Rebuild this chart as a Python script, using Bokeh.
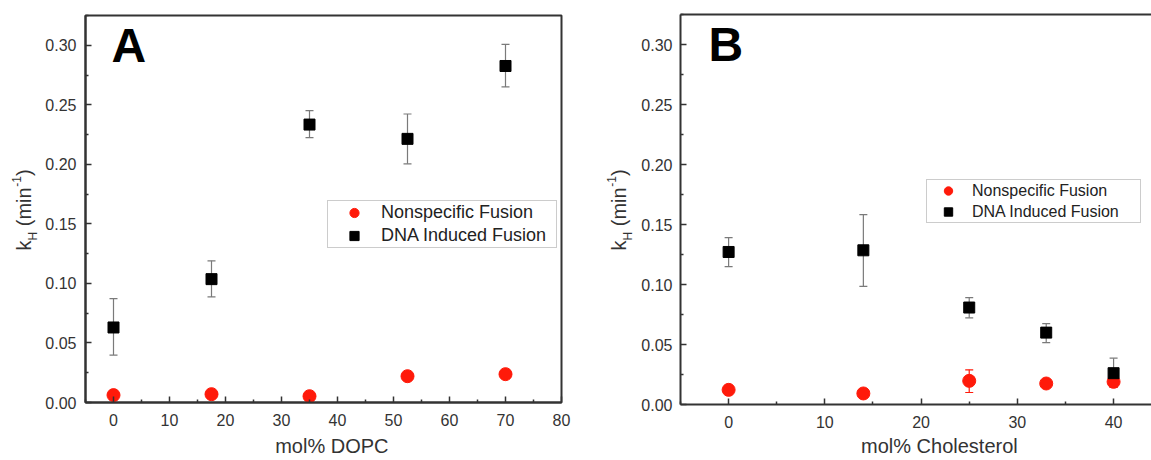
from math import pi
from bokeh.plotting import figure
from bokeh.models import (Range1d, FixedTicker, NumeralTickFormatter, Whisker, TeeHead,
                          ColumnDataSource, Legend, LegendItem, LinearAxis)
from bokeh.core.properties import value
from bokeh.layouts import row, column
from bokeh.embed import file_html
from bokeh.resources import INLINE

# ---------------- data ----------------
# Panel A : mol% DOPC
dopc = [0, 17.5, 35, 52.5, 70]
a_dna = [0.063, 0.1036, 0.2334, 0.2214, 0.2826]
a_dna_lo = [0.0398, 0.0887, 0.2225, 0.2004, 0.2650]
a_dna_hi = [0.0873, 0.1190, 0.2451, 0.2423, 0.3008]
a_ns = [0.0062, 0.0070, 0.0053, 0.0221, 0.0238]
a_ns_lo = [0.0052, 0.0060, 0.0045, 0.0205, 0.0212]
a_ns_hi = [0.0072, 0.0080, 0.0061, 0.0237, 0.0264]

# Panel B : mol% Cholesterol
chol = [0, 14, 25, 33, 40]
b_dna = [0.1271, 0.1285, 0.0808, 0.0599, 0.0261]
b_dna_lo = [0.1149, 0.0985, 0.0722, 0.0516, 0.0142]
b_dna_hi = [0.1390, 0.1582, 0.0890, 0.0674, 0.0386]
b_ns = [0.0122, 0.0092, 0.0197, 0.0175, 0.0189]
b_ns_lo = [0.0112, 0.0082, 0.0100, 0.0165, 0.0145]
b_ns_hi = [0.0132, 0.0102, 0.0289, 0.0185, 0.0230]

series_names = ["Nonspecific Fusion", "DNA Induced Fusion"]
y_ticks = [0.0, 0.05, 0.10, 0.15, 0.20, 0.25, 0.30]
y_minor = [0.025, 0.075, 0.125, 0.175, 0.225, 0.275, 0.325]
a_xticks = [0, 10, 20, 30, 40, 50, 60, 70, 80]
a_xminor = [-5, 5, 15, 25, 35, 45, 55, 65, 75]
b_xticks = [0, 10, 20, 30, 40]
b_xminor = [-5, 5, 15, 25, 35]

FONT = "Liberation Sans"
AX = "#333333"
ERR = "#7a7a7a"
RED = "#ff1a0a"
H = 456
YMAX = 0.325


def blank_fig(W, Hh):
    f = figure(width=W, height=Hh, output_backend="svg", toolbar_location=None, title=None,
               x_range=Range1d(0, W), y_range=Range1d(0, Hh),
               x_axis_location=None, y_axis_location=None,
               min_border=0, min_border_left=0, min_border_right=0,
               min_border_top=0, min_border_bottom=0)
    f.outline_line_color = None
    f.xgrid.visible = False
    f.ygrid.visible = False
    return f


def ylabel_fig(W, base_x, start_y):
    """narrow figure holding the rotated k_H (min^-1) label as text glyphs"""
    f = blank_fig(W, H)
    # (text, font px, shift across, advance along)
    pieces = [("k", 20, 0, 10.0), ("H", 12, 9, 8.7 + 5.6), ("(min", 20, 0, 39.5),
              ("-1", 12, -7, 10.7), (")", 20, 0, 6.7)]
    cur = start_y
    for txt, fs, shift, w in pieces:
        f.text(x=[base_x + shift], y=[H - cur], text=[txt], angle=pi / 2,
               text_font=value(FONT), text_font_size=f"{fs}px", text_color=AX,
               text_align="left", text_baseline="alphabetic")
        cur -= w
    return f


def xlabel_fig(W, Hh, text, cx):
    f = blank_fig(W, Hh)
    f.text(x=[cx], y=[H - 445.5], text=[text], text_font=value(FONT), text_font_size="20px",
           text_color=AX, text_align="center", text_baseline="alphabetic")
    return f


def style_axis(ax, ticks, minor, fmt=None):
    ax.ticker = FixedTicker(ticks=ticks, minor_ticks=minor)
    if fmt:
        ax.formatter = NumeralTickFormatter(format=fmt)
    ax.axis_line_color = AX
    ax.axis_line_width = 2
    ax.major_tick_line_color = AX
    ax.major_tick_line_width = 1.5
    ax.minor_tick_line_color = AX
    ax.minor_tick_line_width = 1.5
    ax.major_tick_in = 6
    ax.major_tick_out = 0
    ax.minor_tick_in = 3
    ax.minor_tick_out = 0
    ax.major_label_text_font = FONT
    ax.major_label_text_font_size = "16px"
    ax.major_label_text_color = AX


def build(x, dna, dlo, dhi, ns, nlo, nhi, W, Hp, bl, br, bt, bb, xr, xticks, xminor,
          letter, letter_xy, legend_loc, legend_font, gw, gh, so, lw, ystand):
    p = figure(width=W, height=Hp, output_backend="svg", toolbar_location=None,
               x_range=Range1d(*xr), y_range=Range1d(0, YMAX),
               min_border_left=bl, min_border_right=br, min_border_top=bt, min_border_bottom=bb,
               background_fill_color="white", border_fill_color="white")
    p.xgrid.visible = False
    p.ygrid.visible = False
    style_axis(p.xaxis[0], xticks, xminor)
    style_axis(p.yaxis[0], y_ticks, y_minor, "0.00")
    p.xaxis.major_label_standoff = 11
    p.yaxis.major_label_standoff = ystand

    sd = ColumnDataSource(dict(x=x, y=dna, lo=dlo, hi=dhi))
    sn = ColumnDataSource(dict(x=x, y=ns, lo=nlo, hi=nhi))

    wd = Whisker(base="x", lower="lo", upper="hi", source=sd, line_color=ERR, line_width=1.2,
                 upper_head=TeeHead(size=8, line_color=ERR, line_width=1.2),
                 lower_head=TeeHead(size=8, line_color=ERR, line_width=1.2), level="underlay")
    wn = Whisker(base="x", lower="lo", upper="hi", source=sn, line_color=RED, line_width=1.2,
                 upper_head=TeeHead(size=8, line_color=RED, line_width=1.2),
                 lower_head=TeeHead(size=8, line_color=RED, line_width=1.2), level="underlay")
    p.add_layout(wd)
    p.add_layout(wn)

    r_ns = p.scatter("x", "y", source=sn, marker="circle", size=13, fill_color=RED, line_color=RED)
    r_dna = p.scatter("x", "y", source=sd, marker="square", size=11, fill_color="black", line_color="black")

    leg = Legend(items=[LegendItem(label=series_names[0], renderers=[r_ns]),
                        LegendItem(label=series_names[1], renderers=[r_dna])],
                 location=legend_loc)
    leg.label_text_font = FONT
    leg.label_text_font_size = legend_font
    leg.label_text_color = "#222222"
    leg.border_line_color = "#999999"
    leg.border_line_width = 1.2
    leg.background_fill_alpha = 1
    leg.padding = 0
    leg.spacing = 0
    leg.margin = 0
    leg.glyph_width = gw
    leg.glyph_height = gh
    leg.label_height = gh
    leg.label_width = lw
    leg.label_standoff = so
    p.add_layout(leg)

    # panel letter
    p.text(x=[letter_xy[0]], y=[letter_xy[1]], text=[letter],
           text_font=value(FONT), text_font_size="48px", text_font_style="bold",
           text_color="black", text_align="left", text_baseline="alphabetic")
    return p


# frame geometry (page px): A frame 83..561 x 15..402 ; B frame 678..1151 x 14..404
HA = 432
ylA = ylabel_fig(42, 23, 250)
pA = build(dopc, a_dna, a_dna_lo, a_dna_hi, a_ns, a_ns_lo, a_ns_hi,
           W=541, Hp=HA, bl=41, br=22, bt=15, bb=HA - 402, xr=(-5, 80),
           xticks=a_xticks, xminor=a_xminor, letter="A",
           letter_xy=(-5 + (109 - 83) / (478 / 85), (402 - 44.5) / (387 / YMAX)),
           legend_loc=(242, 154), legend_font="18px",
           gw=52, gh=23, so=1, lw=175, ystand=9)
pA.outline_line_color = AX
pA.outline_line_width = 2
xlA = xlabel_fig(541, H - HA, "mol% DOPC", 322 - 42)

HB = 434
ylB = ylabel_fig(55, 35, 250)
xb_end = -5 + 473 / 9.665
pB = build(chol, b_dna, b_dna_lo, b_dna_hi, b_ns, b_ns_lo, b_ns_hi,
           W=513, Hp=HB, bl=40, br=0, bt=14, bb=HB - 404, xr=(-5, xb_end),
           xticks=b_xticks, xminor=b_xminor, letter="B",
           letter_xy=(-5 + (706 - 678) / 9.665, (404 - 44) / (390 / YMAX)),
           legend_loc=(246, 181), legend_font="16px",
           gw=42, gh=21, so=3, lw=168, ystand=8)
pB.outline_line_color = None
top = LinearAxis(ticker=FixedTicker(ticks=[]), axis_line_color=AX, axis_line_width=2,
                 major_tick_in=0, major_tick_out=0, minor_tick_in=0, minor_tick_out=0,
                 major_label_text_font_size="0px")
pB.add_layout(top, "above")
xlB = xlabel_fig(513, H - HB, "mol% Cholesterol", 920 - 638)

layout = row(ylA, column(pA, xlA), ylB, column(pB, xlB))
open("out.html", "w").write(file_html(layout, INLINE))
